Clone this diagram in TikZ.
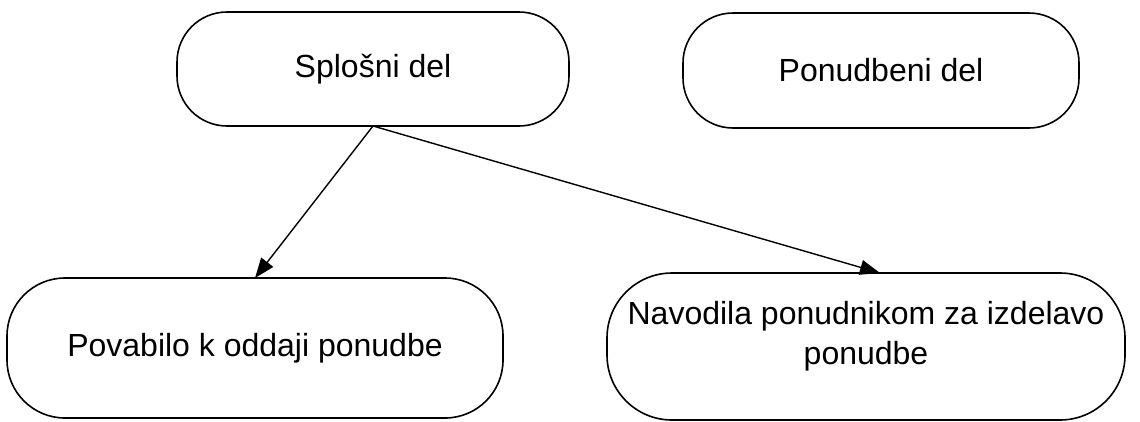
\documentclass[tikz,border=0pt]{standalone}
\usepackage{fontspec}
\setmainfont{Liberation Sans}
\usetikzlibrary{arrows.meta}
\tikzset{
  box/.style={draw=black, line width=1.6pt, fill=white, rounded corners=#1,
    inner sep=0pt, outer sep=0pt, align=center,
    font=\fontsize{32}{39}\selectfont},
  box/.default=50pt,
  caption/.style={inner sep=0pt, align=center, font=\fontsize{32}{40}\selectfont},
  link/.style={draw=black, line width=1.4pt,
    -{Triangle[length=20pt,width=15pt]}}
}
\begin{document}
\begin{tikzpicture}[x=1pt,y=-1pt]
  \useasboundingbox (0,0) rectangle (1140,421);
  % upper row
  \node[box, minimum width=392pt, minimum height=114pt] (gen) at (373,69) {Splošni del};
  \node[box, minimum width=396pt, minimum height=115pt] (off) at (881,70.5) {Ponudbeni del};
  % lower row
  \node[box=58pt, minimum width=496pt, minimum height=140pt] (inv) at (255,348) {Povabilo k oddaji ponudbe};
  \node[box=65pt, minimum width=518pt, minimum height=147pt] (ins) at (866,346.5) {};
  \node[caption] (inst) at (866,336) {Navodila ponudnikom za izdelavo\\ponudbe};
  % connectors
  \draw[link] (gen.south) -- (inv.north);
  \draw[link] (gen.south) -- ([xshift=14pt]ins.north);
\end{tikzpicture}
\end{document}
